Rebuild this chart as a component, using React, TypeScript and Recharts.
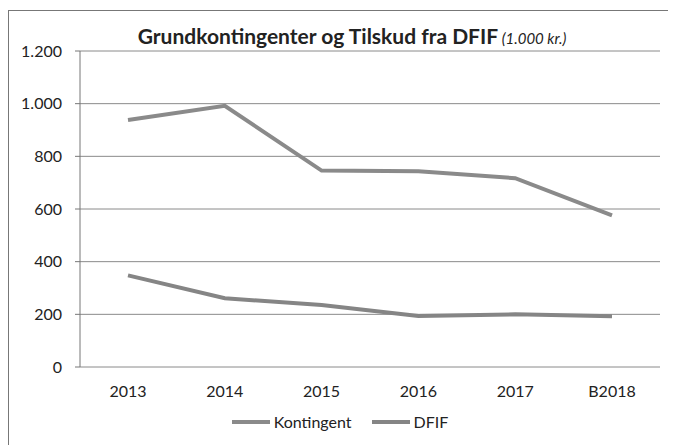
import { LineChart, Line, XAxis, YAxis, CartesianGrid } from "recharts";

const years = ["2013", "2014", "2015", "2016", "2017", "B2018"];
const kontingent = [938, 992, 746, 743, 717, 576];
const dfif = [348, 261, 235, 194, 200, 193];
const yTicks = [0, 200, 400, 600, 800, 1000, 1200];
const boundaryTicks = [0, 1, 2, 3, 4, 5, 6];

const seriesNames = ["Kontingent", "DFIF"];
const seriesColors = ["#8a8a8a", "#858585"];

const data = years.map((year, i) => ({ year, Kontingent: kontingent[i], DFIF: dfif[i] }));

const fmt = (v: number) => String(v).replace(/\B(?=(\d{3})+(?!\d))/g, ".");

const FONT = "Lato, 'Open Sans', sans-serif";

export default function App() {
  return (
    <div
      style={{
        position: "relative",
        width: 662,
        height: 440,
        marginTop: 2,
        border: "1px solid #777",
        background: "#fff",
        fontFamily: FONT,
      }}
    >
      <div
        style={{
          position: "absolute",
          top: 12,
          left: 12,
          width: 662,
          textAlign: "center",
          color: "#222",
          whiteSpace: "nowrap",
        }}
      >
        <span style={{ fontWeight: 700, fontSize: 21 }}>Grundkontingenter og Tilskud fra DFIF</span>
        <span style={{ fontStyle: "italic", fontSize: 15 }}> (1.000 kr.)</span>
      </div>

      <LineChart width={662} height={440} data={data} margin={{ top: 40, right: 11, left: 0, bottom: 54 }}>
        <CartesianGrid vertical={false} stroke="#8a8a8a" strokeWidth={1} />
        <XAxis
          xAxisId="b"
          type="number"
          dataKey="idx"
          domain={[0, 6]}
          ticks={boundaryTicks}
          height={0}
          tickSize={5}
          stroke="#777"
          tick={() => <g />}
          allowDataOverflow
        />
        <XAxis
          dataKey="year"
          padding={{ left: 48, right: 48 }}
          axisLine={false}
          tickLine={false}
          height={30}
          tickMargin={13}
          tick={{ fontSize: 16, fill: "#222", fontFamily: FONT }}
          interval={0}
        />
        <YAxis
          domain={[0, 1200]}
          ticks={yTicks}
          width={71}
          tickSize={5}
          tickMargin={13}
          stroke="#777"
          tickFormatter={fmt}
          tick={{ fontSize: 16, fill: "#222", fontFamily: FONT }}
        />
        <Line
          type="linear"
          dataKey="Kontingent"
          stroke={seriesColors[0]}
          strokeWidth={4}
          dot={false}
          isAnimationActive={false}
        />
        <Line
          type="linear"
          dataKey="DFIF"
          stroke={seriesColors[1]}
          strokeWidth={4}
          dot={false}
          isAnimationActive={false}
        />
      </LineChart>

      <div
        style={{
          position: "absolute",
          top: 401,
          left: 0,
          width: 662,
          display: "flex",
          justifyContent: "center",
          gap: 20,
          fontSize: 16,
          color: "#222",
        }}
      >
        {seriesNames.map((name, i) => (
          <div key={name} style={{ display: "flex", alignItems: "center" }}>
            <span
              style={{ display: "inline-block", width: 38, height: 4, background: seriesColors[i], marginRight: 4 }}
            />
            <span>{name}</span>
          </div>
        ))}
      </div>
    </div>
  );
}
